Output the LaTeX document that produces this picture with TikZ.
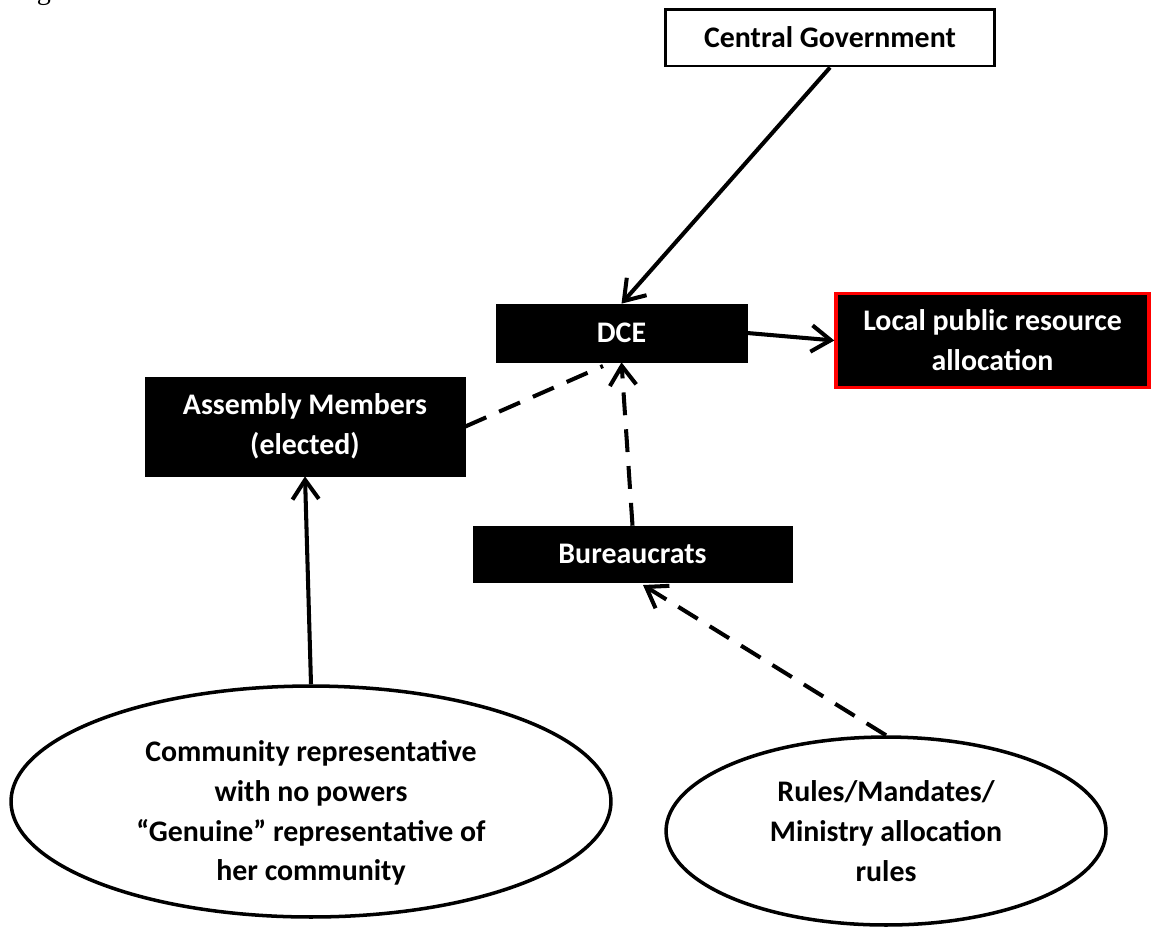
\documentclass[tikz,border=0pt]{standalone}
\usepackage{fontspec}
\setmainfont{Carlito}
\newfontfamily\seriffont{Liberation Serif}
\usetikzlibrary{arrows.meta,shapes.geometric}
\tikzset{
  lbl/.style={font=\bfseries\fontsize{17}{22.7}\selectfont,align=center,inner sep=0pt},
  blackbox/.style={lbl,draw=black,fill=black,text=white},
  whitebox/.style={lbl,draw=black,line width=1.7pt,fill=white,text=black},
  oval/.style={lbl,ellipse,draw=black,line width=2pt,fill=white},
  conn/.style={line width=2.3pt,-{Straight Barb[length=11pt,width=15pt,line width=2.3pt]}},
  dconn/.style={conn,dash pattern=on 13pt off 8pt},
  dline/.style={line width=2.3pt,dash pattern=on 13pt off 8pt},
}
\begin{document}
\begin{tikzpicture}[x=0.02cm,y=-0.02cm]
\useasboundingbox (0,0) rectangle (1151,930);
\begin{scope}
\clip (0,0) rectangle (1151,930);
\node[anchor=base west,font=\seriffont\fontsize{16}{18}\selectfont,inner sep=0pt] (fig) at (13,-1) {Figure};
\end{scope}
\node[whitebox,minimum width=6.6cm,minimum height=1.14cm] (cg) at (830,37.5) {Central Government};
\node[blackbox,minimum width=5.02cm,minimum height=1.16cm] (dce) at (621.5,333) {DCE};
\node[blackbox,draw=red,line width=2pt,minimum width=6.26cm,minimum height=1.88cm] (lpr) at (992.5,340.5) {Local public resource\\allocation};
\node[blackbox,minimum width=6.4cm,minimum height=1.98cm] (am) at (305,426.5) {Assembly Members\\(elected)};
\node[blackbox,minimum width=6.38cm,minimum height=1.12cm] (bur) at (632.5,554) {Bureaucrats};
\node[oval,minimum width=12.0cm,minimum height=4.62cm] (com) at (311,801.5) {};
\node[lbl] (comtext) at (311,813) {Community representative\\with no powers\\``Genuine'' representative of\\her community};
\node[oval,minimum width=8.8cm,minimum height=3.76cm] (rul) at (886,831) {Rules/Mandates/\\Ministry allocation\\rules};
\coordinate (dcediag) at (603,366);
\coordinate (burin) at (643,585);
\draw[conn] (cg.south) -- (dce.north);
\draw[conn] (dce.east) -- (lpr.west);
\draw[dline] (am.east) -- (dcediag);
\draw[dconn] (bur.north) -- (dce.south);
\draw[conn] (com.north) -- (am.south);
\draw[dconn] (rul.north) -- (burin);
\end{tikzpicture}
\end{document}
